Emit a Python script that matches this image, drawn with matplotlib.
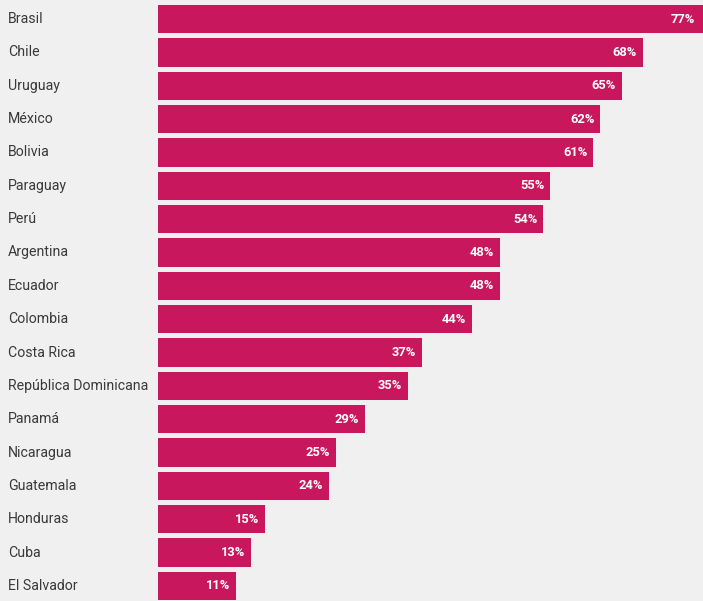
import matplotlib
matplotlib.use("Agg")
import matplotlib.pyplot as plt
import matplotlib.transforms as mtransforms

COUNTRIES = [
    "Brasil", "Chile", "Uruguay", "México", "Bolivia", "Paraguay", "Perú",
    "Argentina", "Ecuador", "Colombia", "Costa Rica", "República Dominicana",
    "Panamá", "Nicaragua", "Guatemala", "Honduras", "Cuba", "El Salvador",
]
VALUES = [77, 68, 65, 62, 61, 55, 54, 48, 48, 44, 37, 35, 29, 25, 24, 15, 13, 11]

BG = "#f0f0f0"
BAR_COLOR = "#c8175d"
XMAX = 76.4

plt.rcParams["font.family"] = ["Roboto", "DejaVu Sans"]

fig = plt.figure(figsize=(7.03, 6.01), dpi=100, facecolor=BG)
ax = fig.add_axes([158 / 703, 0, 1 - 158 / 703, 1])
ax.set_facecolor(BG)

pos = list(range(len(COUNTRIES)))
ax.barh(pos, VALUES, height=0.85, color=BAR_COLOR)
ax.set_xlim(0, XMAX)
ax.set_ylim(17.45, -0.57)
ax.axis("off")

label_tf = mtransforms.blended_transform_factory(fig.transFigure, ax.transData)
for i, (name, val) in enumerate(zip(COUNTRIES, VALUES)):
    ax.text(8 / 703, i, name, transform=label_tf, ha="left", va="center",
            fontsize=10.2, color="#3a3a3a")
    off = mtransforms.offset_copy(ax.transData, fig=fig, x=-6, y=0, units="dots")
    ax.text(min(val, XMAX - 0.3), i, f"{val}%", transform=off, ha="right",
            va="center", fontsize=9.3, fontweight="bold", color="white")

fig.savefig("out.png", dpi=100, facecolor=BG)
